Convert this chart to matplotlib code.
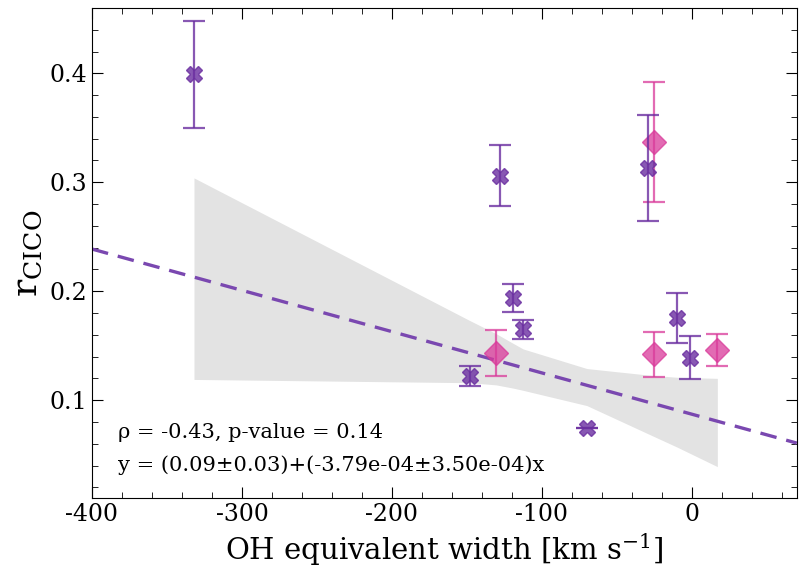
import matplotlib
matplotlib.use("Agg")
import matplotlib.pyplot as plt
from matplotlib.ticker import MultipleLocator
import numpy as np

plt.rcParams["font.family"] = "DejaVu Serif"
plt.rcParams["mathtext.fontset"] = "dejavuserif"
plt.rcParams["axes.unicode_minus"] = False

# Sources with X markers
ew_a = [-332, -128, -119, -112.5, -148, -70, -29, -10, -1.5]
r_a = [0.399, 0.306, 0.194, 0.165, 0.122, 0.074, 0.313, 0.175, 0.139]
err_a = [0.049, 0.028, 0.013, 0.009, 0.009, 0.0, 0.049, 0.023, 0.020]

# Sources with diamond markers
ew_b = [-130.5, -25, -25, 17]
r_b = [0.143, 0.337, 0.142, 0.146]
err_b = [0.021, 0.055, 0.021, 0.015]

# Confidence band of the linear fit
band_x = [-332, -148, -130.5, -119, -112.5, -70, -29, -10, 17]
band_hi = [0.304, 0.173, 0.161, 0.152, 0.147, 0.129, 0.123, 0.121, 0.120]
band_lo = [0.119, 0.116, 0.114, 0.111, 0.109, 0.095, 0.069, 0.057, 0.039]

# Fit parameters
intercept = 0.0871
slope = -3.79e-4
rho, pval = -0.43, 0.14

purple = "#6a2ea0"
pink = "#d93a9a"

fig = plt.figure(figsize=(8, 5.7), dpi=100)
ax = fig.add_axes([0.115, 0.126, 0.881, 0.86])

ax.fill_between(band_x, band_lo, band_hi, color="#e3e3e3", lw=0, zorder=1)

xl = np.array([-400, 70])
ax.plot(xl, intercept + slope * xl, ls=(0, (5, 3)), color="#7a48b0", lw=2.4, zorder=2)

ax.errorbar(ew_a, r_a, yerr=err_a, fmt="X", ms=12, color=purple, mfc=purple,
            mec=purple, alpha=0.8, elinewidth=1.6, capsize=8, capthick=1.6, zorder=4)
ax.errorbar(ew_b, r_b, yerr=err_b, fmt="D", ms=12, color=pink, mfc=pink,
            mec=pink, alpha=0.75, elinewidth=1.6, capsize=8, capthick=1.6, zorder=3)

ax.text(0.037, 0.135, f"ρ = {rho:.2f}, p-value = {pval:.2f}", transform=ax.transAxes,
        fontsize=15, va="center")
ax.text(0.037, 0.067, "y = (0.09±0.03)+(-3.79e-04±3.50e-04)x", transform=ax.transAxes,
        fontsize=15, va="center")

ax.set_xlim(-400, 70)
ax.set_ylim(0.01, 0.46)
ax.xaxis.set_major_locator(MultipleLocator(100))
ax.xaxis.set_minor_locator(MultipleLocator(20))
ax.yaxis.set_major_locator(MultipleLocator(0.1))
ax.yaxis.set_minor_locator(MultipleLocator(0.02))
ax.tick_params(which="both", direction="in", top=True, right=True, labelsize=17)
ax.tick_params(which="major", length=8)
ax.tick_params(which="minor", length=4)

ax.set_xlabel(r"OH equivalent width [km s$^{-1}$]", fontsize=21)
ax.set_ylabel(r"$\mathrm{r_{CICO}}$", fontsize=26)

fig.savefig("out.png", dpi=100)
